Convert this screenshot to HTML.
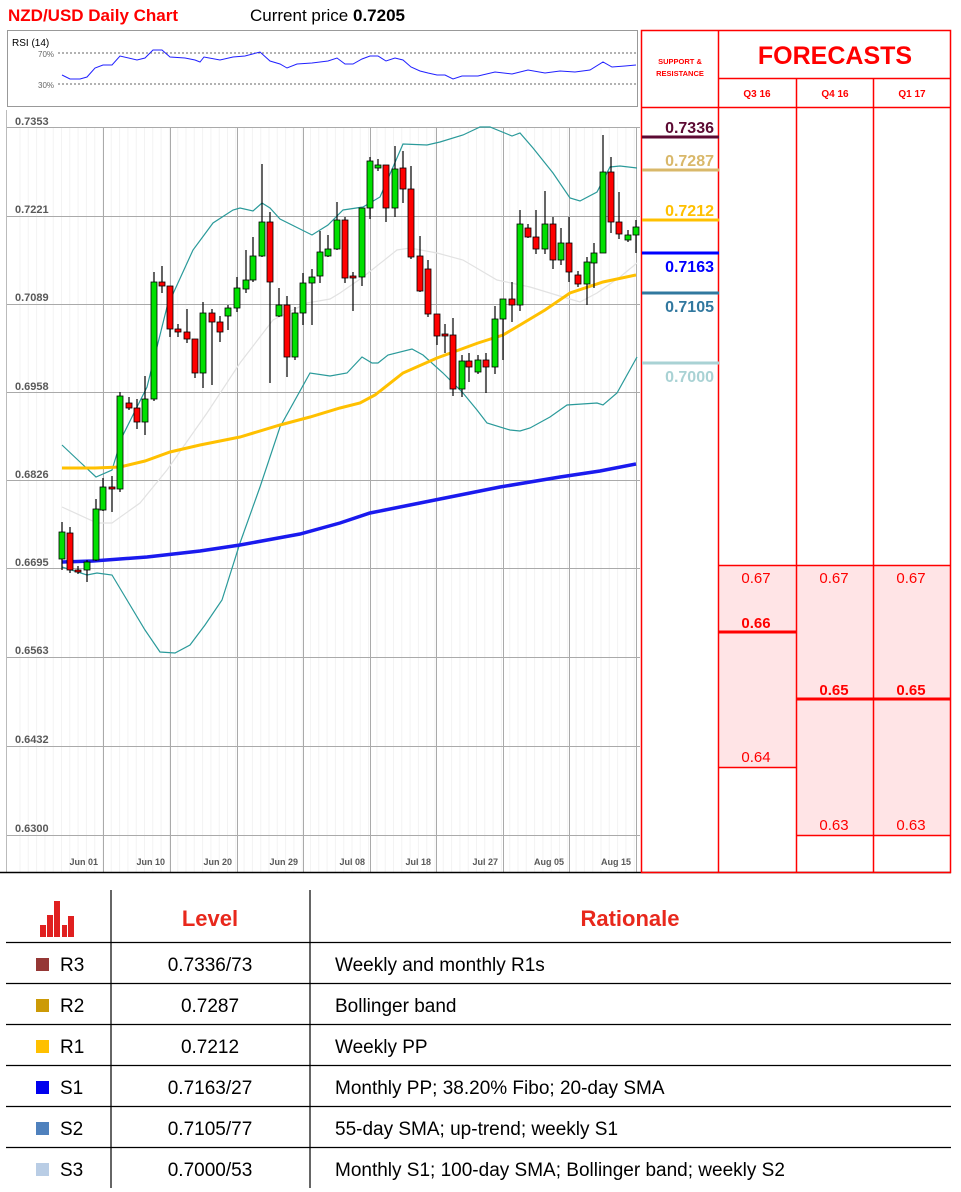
<!DOCTYPE html>
<html><head><meta charset="utf-8"><style>
html,body{margin:0;padding:0;background:#fff;}
body{width:961px;height:1192px;position:relative;overflow:hidden;font-family:"Liberation Sans",sans-serif;}
</style></head><body>
<svg width="961" height="1192" style="position:absolute;left:0;top:0" xmlns="http://www.w3.org/2000/svg" font-family="Liberation Sans, sans-serif">
<text x="8" y="21" font-size="17" font-weight="bold" fill="#ff0000">NZD/USD Daily Chart</text>
<text x="250" y="21" font-size="17" fill="#000">Current price <tspan font-weight="bold">0.7205</tspan></text>
<rect x="7.5" y="30.5" width="630" height="76" fill="#fff" stroke="#999"/>
<text x="12" y="46" font-size="10" fill="#000">RSI (14)</text>
<text x="38" y="57" font-size="8" fill="#666">70%</text>
<text x="38" y="88" font-size="8" fill="#666">30%</text>
<line x1="58" y1="53" x2="636" y2="53" stroke="#666" stroke-dasharray="2,2"/>
<line x1="58" y1="84" x2="636" y2="84" stroke="#666" stroke-dasharray="2,2"/>
<polyline fill="none" stroke="#2020ff" stroke-width="1" points="62,75 70,79 80,79 87,77 95,68 103,65 112,65 120,56 137,60 145,58 153,50 162,50 170,57 185,58 195,60 200,62 204,57 220,60 233,57 245,56 260,52 270,61 280,64 287,68 297,64 312,63 320,62 328,61 337,58 345,64 353,64 362,59 370,56 378,56 386,61 395,58 403,60 411,67 420,71 428,73 437,75 445,75 453,79 462,76 478,76 495,72 512,74 528,70 545,73 560,71 575,72 590,70 603,62 612,67 625,66 636,65"/>
<line x1="6.5" y1="110" x2="6.5" y2="872" stroke="#bbb"/>
<g id="minor" stroke="#f3f3f3" stroke-width="1"></g>
<g stroke="#aaa" stroke-width="1">
<line x1="7" y1="127.5" x2="640" y2="127.5"/><line x1="7" y1="216.5" x2="640" y2="216.5"/>
<line x1="7" y1="304.5" x2="640" y2="304.5"/><line x1="7" y1="392.5" x2="640" y2="392.5"/>
<line x1="7" y1="480.5" x2="640" y2="480.5"/><line x1="7" y1="568.5" x2="640" y2="568.5"/>
<line x1="7" y1="657.5" x2="640" y2="657.5"/><line x1="7" y1="746.5" x2="640" y2="746.5"/>
<line x1="7" y1="835.5" x2="640" y2="835.5"/>
<line x1="103.5" y1="127" x2="103.5" y2="872"/><line x1="170.5" y1="127" x2="170.5" y2="872"/>
<line x1="237.5" y1="127" x2="237.5" y2="872"/><line x1="303.5" y1="127" x2="303.5" y2="872"/>
<line x1="370.5" y1="127" x2="370.5" y2="872"/><line x1="436.5" y1="127" x2="436.5" y2="872"/>
<line x1="503.5" y1="127" x2="503.5" y2="872"/><line x1="569.5" y1="127" x2="569.5" y2="872"/>
<line x1="636.5" y1="127" x2="636.5" y2="872"/>
</g>
<g font-size="11" fill="#595959" font-weight="bold">
<text x="15" y="125">0.7353</text><text x="15" y="213">0.7221</text><text x="15" y="301">0.7089</text>
<text x="15" y="390">0.6958</text><text x="15" y="478">0.6826</text><text x="15" y="566">0.6695</text>
<text x="15" y="654">0.6563</text><text x="15" y="743">0.6432</text><text x="15" y="832">0.6300</text>
</g>
<g font-size="9" fill="#595959" font-weight="bold" text-anchor="end">
<text x="98" y="865">Jun 01</text><text x="165" y="865">Jun 10</text><text x="232" y="865">Jun 20</text>
<text x="298" y="865">Jun 29</text><text x="365" y="865">Jul 08</text><text x="431" y="865">Jul 18</text>
<text x="498" y="865">Jul 27</text><text x="564" y="865">Aug 05</text><text x="631" y="865">Aug 15</text>
</g>
<line x1="0" y1="872.5" x2="951" y2="872.5" stroke="#000" stroke-width="1.5"/>
<polyline fill="none" stroke="#e2e2e2" stroke-width="1.2" points="62,507 97,523 112,523 140,503 167,470 207,413 240,363 273,320 307,303 330,299 340,293 363,277 397,250 410,248 437,253 463,260 497,280 530,287 563,297 580,302 597,293 620,277 637,263"/>
<polyline fill="none" stroke="#2a9a9a" stroke-width="1.2" points="62,445 80,462 96,477 112,470 122,437 147,387 167,307 193,250 213,223 233,210 240,208 253,211 262,203 270,208 280,219 312,235 328,225 343,210 363,207 380,197 403,144 427,145 440,142 463,135 480,127 490,127 512,136 520,133 533,148 553,173 570,198 580,201 597,192 610,167 620,166 637,168"/>
<polyline fill="none" stroke="#2a9a9a" stroke-width="1.2" points="62,567 87,575 97,573 112,575 127,600 145,630 160,652 175,653 190,645 205,625 222,600 240,543 260,487 280,427 310,373 330,376 347,373 362,357 372,363 378,363 388,355 412,349 423,355 443,373 463,393 477,410 487,423 510,430 520,431 530,428 550,417 567,405 597,403 603,405 617,393 637,357"/>
<polyline fill="none" stroke="#ffc000" stroke-width="3" points="62,468 95,468 120,467 145,461 170,452 200,445 240,437 280,425 310,417 340,408 360,403 375,395 403,373 437,358 478,343 503,335 520,325 545,310 570,293 603,282 636,275"/>
<polyline fill="none" stroke="#1a1aee" stroke-width="3.5" points="62,562 93,561 147,557 200,551 240,545 300,534 340,523 370,513 410,505 450,497 500,487 560,477 600,471 636,464"/>
<g id="candles"></g>
<rect x="719" y="565" width="77" height="202" fill="#ffe4e6"/>
<rect x="796" y="565" width="155" height="270" fill="#ffe4e6"/>
<g stroke="#ff0000" stroke-width="1.5" fill="none">
<rect x="641.5" y="30.5" width="309" height="842"/>
<line x1="718.5" y1="30" x2="718.5" y2="872"/>
<line x1="796.5" y1="78" x2="796.5" y2="872"/>
<line x1="873.5" y1="78" x2="873.5" y2="872"/>
<line x1="718" y1="78.5" x2="951" y2="78.5"/>
<line x1="641" y1="107.5" x2="951" y2="107.5"/>
<line x1="718" y1="565.5" x2="951" y2="565.5"/>
<line x1="718" y1="767.5" x2="796" y2="767.5"/>
<line x1="796" y1="835.5" x2="951" y2="835.5"/>
<line x1="718" y1="632" x2="796" y2="632" stroke-width="3"/>
<line x1="796" y1="699" x2="951" y2="699" stroke-width="3"/>
</g>
<g fill="#ff0000" text-anchor="middle">
<text x="680" y="64" font-size="7.5" font-weight="bold">SUPPORT &amp;</text>
<text x="680" y="76" font-size="7.5" font-weight="bold">RESISTANCE</text>
<text x="835" y="64" font-size="25" font-weight="bold">FORECASTS</text>
<text x="757" y="97" font-size="10" font-weight="bold">Q3 16</text>
<text x="835" y="97" font-size="10" font-weight="bold">Q4 16</text>
<text x="912" y="97" font-size="10" font-weight="bold">Q1 17</text>
<g font-size="15"><text x="756" y="583">0.67</text><text x="834" y="583">0.67</text><text x="911" y="583">0.67</text>
<text x="756" y="762">0.64</text><text x="834" y="830">0.63</text><text x="911" y="830">0.63</text></g>
<g font-size="15" font-weight="bold"><text x="756" y="628">0.66</text><text x="834" y="695">0.65</text><text x="911" y="695">0.65</text></g>
</g>
<g font-size="16" font-weight="bold" text-anchor="end">
<line x1="642" y1="137" x2="719" y2="137" stroke="#5c0a33" stroke-width="3"/><text x="714" y="133" fill="#5c0a33">0.7336</text>
<line x1="642" y1="170" x2="719" y2="170" stroke="#d9b86a" stroke-width="3"/><text x="714" y="166" fill="#d9b86a">0.7287</text>
<line x1="642" y1="220" x2="719" y2="220" stroke="#ffc000" stroke-width="3"/><text x="714" y="216" fill="#ffc000">0.7212</text>
<line x1="642" y1="253" x2="719" y2="253" stroke="#0000ff" stroke-width="3"/><text x="714" y="272" fill="#0000ff">0.7163</text>
<line x1="642" y1="293" x2="719" y2="293" stroke="#31789f" stroke-width="3"/><text x="714" y="312" fill="#31789f">0.7105</text>
<line x1="642" y1="363" x2="719" y2="363" stroke="#a9d2d4" stroke-width="3"/><text x="714" y="382" fill="#a9d2d4">0.7000</text>
</g>
<g fill="#e02020">
<rect x="40" y="925" width="6" height="12"/><rect x="47" y="915" width="6" height="22"/>
<rect x="54" y="901" width="6" height="36"/><rect x="62" y="925" width="5" height="12"/>
<rect x="68" y="916" width="6" height="21"/>
</g>
<g stroke="#000" stroke-width="1.2">
<line x1="111" y1="890" x2="111" y2="1188"/><line x1="310" y1="890" x2="310" y2="1188"/>
<line x1="6" y1="942.5" x2="951" y2="942.5"/><line x1="6" y1="983.5" x2="951" y2="983.5"/>
<line x1="6" y1="1024.5" x2="951" y2="1024.5"/><line x1="6" y1="1065.5" x2="951" y2="1065.5"/>
<line x1="6" y1="1106.5" x2="951" y2="1106.5"/><line x1="6" y1="1147.5" x2="951" y2="1147.5"/>
</g>
<g font-size="22" font-weight="bold" fill="#e8281c" text-anchor="middle">
<text x="210" y="926">Level</text><text x="630" y="926">Rationale</text>
</g>
<rect x="36" y="958" width="13" height="13" fill="#953735"/>
<rect x="36" y="999" width="13" height="13" fill="#cc9a06"/>
<rect x="36" y="1040" width="13" height="13" fill="#ffc000"/>
<rect x="36" y="1081" width="13" height="13" fill="#0000ee"/>
<rect x="36" y="1122" width="13" height="13" fill="#4f81bd"/>
<rect x="36" y="1163" width="13" height="13" fill="#b9cde5"/>
<g font-size="19" fill="#000">
<text x="60" y="971">R3</text><text x="60" y="1012">R2</text><text x="60" y="1053">R1</text>
<text x="60" y="1094">S1</text><text x="60" y="1135">S2</text><text x="60" y="1176">S3</text>
<g text-anchor="middle">
<text x="210" y="971">0.7336/73</text><text x="210" y="1012">0.7287</text><text x="210" y="1053">0.7212</text>
<text x="210" y="1094">0.7163/27</text><text x="210" y="1135">0.7105/77</text><text x="210" y="1176">0.7000/53</text>
</g>
<text x="335" y="971">Weekly and monthly R1s</text>
<text x="335" y="1012">Bollinger band</text>
<text x="335" y="1053">Weekly PP</text>
<text x="335" y="1094">Monthly PP; 38.20% Fibo; 20-day SMA</text>
<text x="335" y="1135">55-day SMA; up-trend; weekly S1</text>
<text x="335" y="1176">Monthly S1; 100-day SMA; Bollinger band; weekly S2</text>
</g>
</svg>
<script>
var C=[[62,532,559,522,570,1],[70,533,570,527,573,0],[78,570,572,566,574,0],[87,562,570,560,582,1],[96,509,560,499,561,1],[103,487,510,478,511,1],[112,487,489,476,512,0],[120,396,489,392,492,1],[129,403,408,397,410,0],[137,408,422,399,429,0],[145,399,422,376,435,1],[154,282,399,272,401,1],[162,282,286,266,293,0],[170,286,329,286,337,0],[178,329,332,324,337,0],[187,332,339,309,343,0],[195,339,373,339,378,0],[203,313,373,302,388,1],[212,313,322,309,385,0],[220,322,332,316,342,0],[228,308,316,305,330,1],[237,288,308,277,312,1],[246,280,289,250,293,1],[253,256,280,237,282,1],[262,222,256,164,257,1],[270,222,282,212,383,0],[279,305,316,288,317,1],[287,305,357,296,377,0],[295,313,357,307,360,1],[303,283,313,273,325,1],[312,277,283,269,325,1],[320,252,276,231,283,1],[328,249,256,235,257,1],[337,220,249,202,250,1],[345,220,278,217,283,0],[353,276,278,272,311,0],[362,208,277,208,286,1],[370,161,208,157,219,1],[378,165,168,159,171,1],[386,165,208,165,222,0],[395,169,208,146,217,1],[403,168,189,151,203,0],[411,189,257,166,259,0],[420,256,291,236,292,0],[428,269,314,260,317,0],[437,314,336,314,345,0],[445,334,336,324,353,0],[453,335,389,318,396,0],[462,361,389,355,397,1],[469,361,367,353,382,0],[478,360,372,355,374,1],[486,360,367,353,393,0],[495,319,367,306,374,1],[503,299,319,299,360,1],[512,299,305,282,322,0],[520,224,305,210,311,1],[528,228,237,224,238,0],[536,237,249,210,254,0],[545,224,249,191,254,1],[553,224,260,217,269,0],[561,243,260,228,265,1],[569,243,272,217,282,0],[578,275,284,271,287,0],[587,262,284,257,305,1],[594,253,263,243,288,1],[603,172,253,135,253,1],[611,172,222,157,233,0],[619,222,234,192,239,0],[628,235,240,230,242,1],[636,227,235,220,253,1]];
var g=document.getElementById('candles'),s='';
C.forEach(function(c){s+='<line x1="'+c[0]+'" y1="'+c[3]+'" x2="'+c[0]+'" y2="'+c[4]+'" stroke="#000" stroke-width="1.2"/>';
var h=Math.max(c[2]-c[1],2);s+='<rect x="'+(c[0]-3)+'" y="'+c[1]+'" width="6" height="'+h+'" fill="'+(c[5]?'#00e000':'#ff0000')+'" stroke="#000" stroke-width="0.8"/>';});
g.innerHTML=s;
var m='';for(var x=20;x<640;x+=8.3){m+='<line x1="'+x.toFixed(1)+'" y1="127" x2="'+x.toFixed(1)+'" y2="872"/>';}
document.getElementById('minor').innerHTML=m;
</script>
</body></html>
